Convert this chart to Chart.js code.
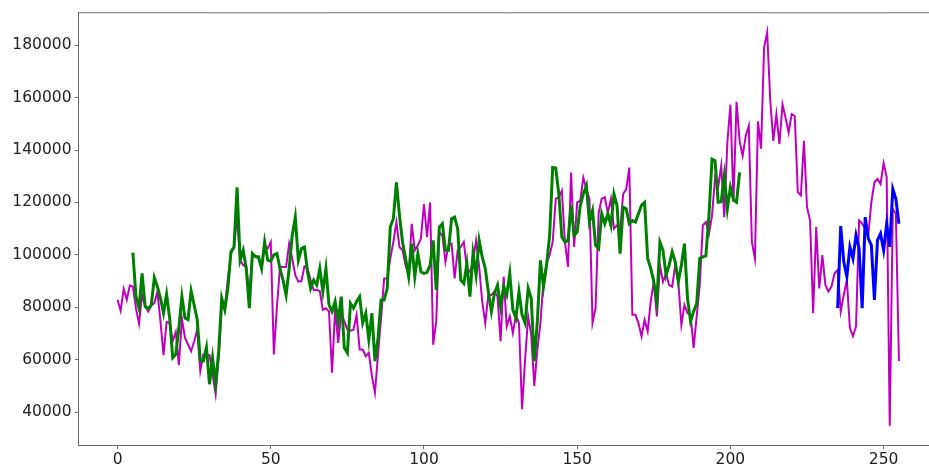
<!DOCTYPE html>
<html>
<head>
<meta charset="utf-8">
<script src="https://cdn.jsdelivr.net/npm/chart.js@4"></script>
<style>
  html, body { margin: 0; padding: 0; background: #ffffff; overflow: hidden; }
  #wrap { width: 929px; height: 468px; overflow: hidden; }
  canvas { display: block; }
</style>
</head>
<body>
<div id="wrap"><canvas id="c" width="938" height="468" style="width:938px;height:468px"></canvas></div>
<script>
// ---- data ----
const magentaStart = 0;
const magentaValues = [
  82830, 78660, 87000, 82830, 88260, 87880, 79650, 73740, 84730, 80300,
  78400, 80680, 81550, 85980, 74620, 61720, 74370, 73990, 67030, 70570,
  57930, 75630, 68290, 65770, 63240, 67030, 71460, 55650, 61980, 61340,
  61720, 54370, 46790, 60710, 80300, 79650, 91020, 100500, 103000, 115000,
  97970, 96070, 95400, 84700, 100500, 99600, 98600, 94800, 103600, 102400,
  104900, 61940, 80000, 95440, 95400, 95400, 104260, 98600, 92280, 89750,
  90000, 95600, 94800, 90380, 86600, 86600, 86200, 79000, 79640, 78370,
  55000, 79640, 66370, 77740, 74580, 71420, 71000, 71400, 77100, 63830,
  63830, 61300, 62570, 53700, 47400, 61940, 75840, 91000, 91000, 98600,
  104900, 112500, 103000, 101760, 96070, 92280, 111870, 101760, 103650, 106200,
  119400, 106800, 120000, 65700, 74600, 108700, 107400, 97300, 103600, 104300,
  91000, 101760, 103000, 104900, 94800, 93500, 97300, 105500, 95400, 82200,
  73950, 84700, 84700, 86000, 84060, 67000, 91640, 72700, 76500, 70160,
  77100, 73950, 41100, 60000, 76500, 69500, 50000, 63800, 73950, 90400,
  96700, 99900, 104900, 121400, 122000, 124500, 104900, 95400, 131400, 103000,
  120000, 120700, 129500, 125100, 121400, 73950, 79640, 116000, 121400, 122000,
  116000, 121400, 110000, 111240, 109300, 123200, 125100, 133300, 77100, 77100,
  73950, 68900, 75200, 70800, 82200, 89750, 76500, 96070, 89750, 92900,
  88500, 87850, 96070, 89750, 73300, 80900, 77740, 77100, 64470, 76500,
  88500, 111240, 112500, 108000, 115000, 129500, 125800, 134000, 114400, 142800,
  157400, 120200, 158400, 143500, 137800, 145400, 149200, 104900, 98600, 151000,
  140500, 179200, 184900, 159000, 143500, 153700, 142300, 157400, 152300, 146700,
  153700, 153000, 124000, 122700, 143500, 118200, 113100, 77700, 110600, 87200,
  99900, 88500, 86000, 87900, 93000, 94200, 78400, 84730, 90400, 72070,
  68920, 72710, 113160, 111880, 109980, 107470, 120100, 127700, 128950, 127040,
  135000, 129580, 34730, 117560, 115670, 59450
];

const greenStart = 5;
const greenValues = [
  100880, 84090, 79650, 92920, 80300, 79410, 80800, 91290, 87880, 83460,
  77760, 84960, 75870, 60710, 61980, 72070, 84090, 75870, 75240, 86240,
  80800, 75240, 59450, 59450, 64750, 50610, 60710, 50610, 63240, 83460,
  79020, 87250, 101150, 103000, 125760, 97970, 101760, 94800, 79640, 100500,
  99230, 99230, 94800, 104900, 97970, 97600, 100000, 100500, 94800, 90380,
  84700, 94800, 107400, 114400, 97970, 102400, 103000, 93540, 87200, 90380,
  88500, 94800, 85960, 94800, 80900, 78370, 82200, 74600, 84060, 64500,
  62570, 81500, 79640, 82170, 84060, 73950, 77740, 67630, 77740, 59400,
  68270, 82800, 82800, 87220, 110600, 113770, 127700, 115000, 104900, 98600,
  91640, 104300, 91640, 100500, 93540, 92900, 93300, 96070, 105500, 86600,
  110600, 111900, 101760, 101760, 113770, 114400, 110000, 90380, 89100, 96700,
  84060, 100500, 92280, 105500, 99230, 94800, 85960, 78370, 85330, 88500,
  80270, 87850, 84700, 92900, 79000, 75840, 85960, 77100, 73950, 87220,
  83430, 59400, 74600, 97900, 87850, 96000, 107400, 133300, 133100, 123200,
  106800, 104900, 105500, 118800, 107400, 108700, 118800, 123200, 126400, 112500,
  116900, 103650, 102400, 115700, 111900, 115700, 111240, 123200, 118800, 100500,
  118200, 117560, 111900, 113100, 112500, 115700, 119000, 120000, 98600, 94800,
  89750, 82200, 104900, 101760, 92280, 96070, 101130, 97300, 89750, 96070,
  104260, 83430, 74600, 78370, 81500, 98600, 99230, 99600, 115000, 136500,
  135900, 120100, 120300, 130200, 117560, 125800, 121000, 120100, 131500
];

const blueStart = 235;
const blueValues = [
  79650, 110990, 97360, 91670, 103040, 98620, 107470, 102400, 79650, 114400,
  106200, 103700, 82830, 105580, 108100, 101790, 111880, 103040, 125150, 121350,
  111880
];

const xTicks = [0, 50, 100, 150, 200, 250];
const yTicks = [40000, 60000, 80000, 100000, 120000, 140000, 160000, 180000];

// ---- build ----
function toPoints(start, vals) {
  return vals.map((v, k) => ({ x: start + k, y: v }));
}

const framePlugin = {
  id: 'frame',
  afterDraw(chart) {
    const { ctx, chartArea: a } = chart;
    ctx.save();
    ctx.strokeStyle = '#6e6e6e';
    ctx.lineWidth = 1;
    ctx.beginPath();
    ctx.moveTo(a.left, a.top);
    ctx.lineTo(a.right, a.top);
    ctx.stroke();
    ctx.restore();
  }
};

const fontSpec = { family: 'DejaVu Sans', size: 15.5 };

new Chart(document.getElementById('c'), {
  type: 'line',
  data: {
    datasets: [
      { data: toPoints(magentaStart, magentaValues), borderColor: '#bf00bf', borderWidth: 2, order: 3 },
      { data: toPoints(greenStart, greenValues), borderColor: '#008000', borderWidth: 3, order: 2 },
      { data: toPoints(blueStart, blueValues), borderColor: '#0000ff', borderWidth: 3, order: 1 }
    ]
  },
  options: {
    responsive: false,
    animation: false,
    devicePixelRatio: 1,
    layout: { padding: { top: 9.5, left: 0, right: 0, bottom: 0 } },
    elements: {
      point: { radius: 0, hoverRadius: 0 },
      line: { tension: 0, fill: false, borderJoinStyle: 'miter', borderCapStyle: 'butt' }
    },
    plugins: { legend: { display: false }, tooltip: { enabled: false } },
    scales: {
      x: {
        type: 'linear',
        min: -12.75,
        max: 267.75,
        afterBuildTicks: (s) => { s.ticks = xTicks.map(v => ({ value: v })); },
        afterFit: (s) => { s.height = 22.5; },
        grid: { drawOnChartArea: false, drawTicks: true, tickLength: 3.5, color: '#6e6e6e', tickWidth: 1 },
        border: { display: true, color: '#6e6e6e', width: 1 },
        ticks: { font: fontSpec, color: '#222222', padding: 1.5, maxRotation: 0, autoSkip: false,
                 callback: (v) => String(v) }
      },
      y: {
        type: 'linear',
        min: 27220,
        max: 192400,
        afterBuildTicks: (s) => { s.ticks = yTicks.map(v => ({ value: v })); },
        afterFit: (s) => { s.width = 78.5; },
        grid: { drawOnChartArea: false, drawTicks: true, tickLength: 3.5, color: '#6e6e6e', tickWidth: 1 },
        border: { display: true, color: '#6e6e6e', width: 1 },
        ticks: { font: fontSpec, color: '#222222', padding: 3.5, autoSkip: false,
                 callback: (v) => String(v) }
      }
    }
  },
  plugins: [framePlugin]
});
</script>
</body>
</html>
